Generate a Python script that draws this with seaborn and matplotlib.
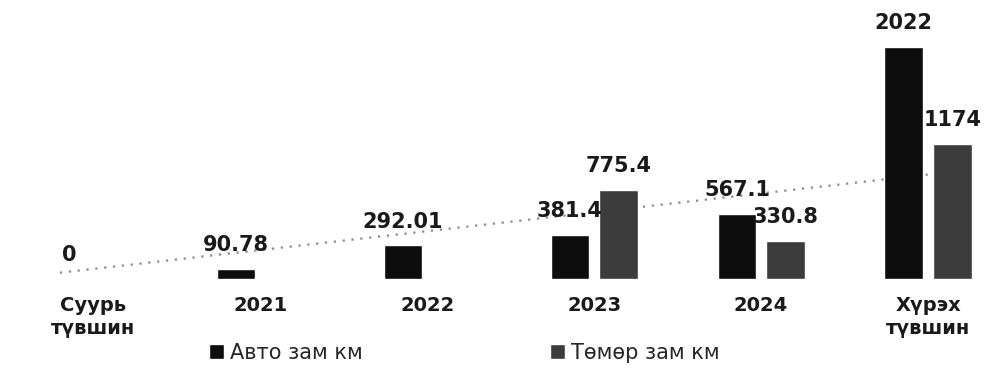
import pandas as pd
import seaborn as sns
import numpy as np
from matplotlib import pyplot as plt

categories = ["Суурь\nтүвшин", "2021", "2022", "2023", "2024", "Хүрэх\nтүвшин"]
auto_km = [0, 90.78, 292.01, 381.4, 567.1, 2022]
rail_km = [0, 0, 0, 775.4, 330.8, 1174]
series_names = ["Авто зам км", "Төмөр зам км"]

# dotted trend line (start / end values)
trend_x = [-0.2, 5.0]
trend_y = [55, 910]

df = pd.DataFrame({
    "category": categories * 2,
    "value": auto_km + rail_km,
    "series": [series_names[0]] * len(categories) + [series_names[1]] * len(categories),
})

sns.set_theme(style="white")
plt.rcParams["font.family"] = ["DejaVu Sans"]

fig = plt.figure(figsize=(9.88, 3.72), dpi=100)
ax = fig.add_axes([0.01, 0.25, 0.98, 0.71])

sns.lineplot(x=trend_x, y=trend_y, ax=ax, color="#8a8a8a", linestyle=(0, (1, 3)),
             linewidth=1.6, zorder=1)

sns.barplot(data=df, x="category", y="value", hue="series", order=categories,
            hue_order=series_names, palette=["#0d0d0d", "#3c3c3c"],
            width=0.58, gap=0.2, ax=ax, zorder=2, legend=True)

for bars, name in zip(ax.containers, series_names):
    labels = []
    for b in bars:
        h = b.get_height()
        if name == series_names[1] and h == 0:
            labels.append("")
        else:
            labels.append(f"{h:g}")
    ax.bar_label(bars, labels=labels, padding=10, fontsize=15, fontweight="bold",
                 color="#1a1a1a")

ax.set_ylim(0, 2300)
ax.set_xlim(-0.5, 5.3)
ax.set_xlabel("")
ax.set_ylabel("")
ax.set_yticks([])
ax.tick_params(axis="x", length=0, pad=12)
for lab in ax.get_xticklabels():
    lab.set_fontweight("bold")
    lab.set_fontsize(14)
    lab.set_color("#1a1a1a")
    lab.set_linespacing(1.3)
sns.despine(ax=ax, left=True, bottom=True)

handles, labels = ax.get_legend_handles_labels()
ax.get_legend().remove()
fig.legend(handles=handles, labels=labels, loc="lower center", ncol=2,
           bbox_to_anchor=(0.47, -0.025), frameon=False, fontsize=15,
           handlelength=0.7, handleheight=0.7, handletextpad=0.3, columnspacing=9)

fig.savefig("out.png", dpi=100)
